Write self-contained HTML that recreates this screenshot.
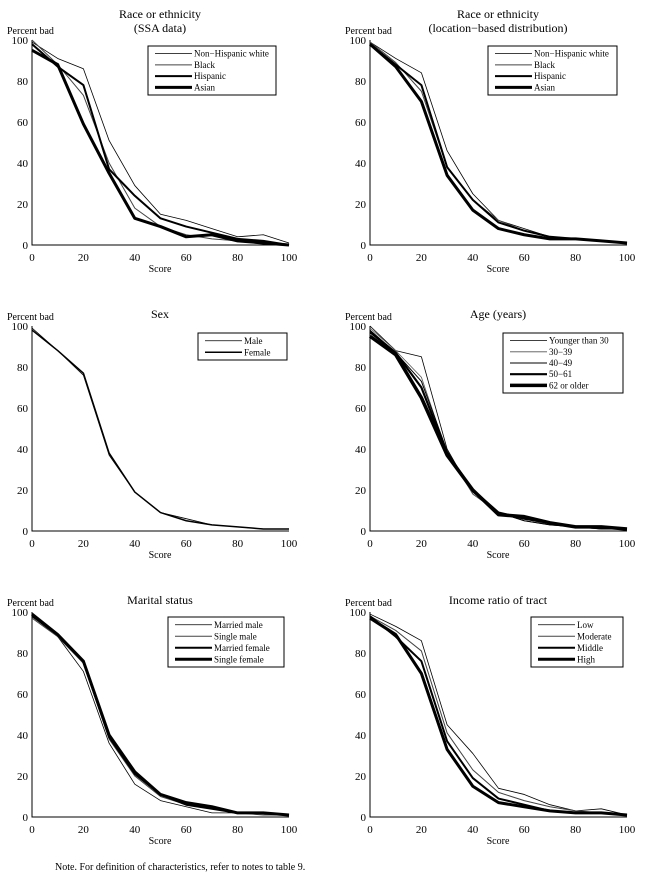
<!DOCTYPE html>
<html><head><meta charset="utf-8"><style>
html,body{margin:0;padding:0;background:#fff;}
svg{display:block;font-family:"Liberation Serif",serif;}
</style></head><body>
<svg id="c" width="645" height="882" viewBox="0 0 645 882" xmlns="http://www.w3.org/2000/svg">
<text x="55" y="870" font-size="10">Note. For definition of characteristics, refer to notes to table 9.</text>
</svg>
<script>
const xTicks=[0,20,40,60,80,100];
const yTicks=[0,20,40,60,80,100];
const scores=[0,10,20,30,40,50,60,70,80,90,100];
const ssaLabels=["Non\u2212Hispanic white","Black","Hispanic","Asian"];
const ssaNHW=[99,91,86,51,29,15,12,8,4,5,1];
const ssaBlack=[100,88,73,40,18,9,5,3,2,1,0];
const ssaHisp=[98,87,78,37,24,13,9,6,3,2,0];
const ssaAsian=[95,88,59,35,13,9,4,5,2,1,0];
const locNHW=[99,91,84,46,25,12,8,4,3,2,1];
const locBlack=[99,89,75,38,22,12,7,4,3,2,1];
const locHisp=[98,88,78,38,22,11,7,4,3,2,1];
const locAsian=[98,87,70,34,17,8,5,3,3,2,1];
const sexLabels=["Male","Female"];
const sexMale=[99,88,76,37,19,9,6,3,2,1,1];
const sexFemale=[98,88,77,38,19,9,5,3,2,1,1];
const ageLabels=["Younger than 30","30\u221239","40\u221249","50\u221261","62 or older"];
const ageU30=[100,88,85,40,18,9,5,3,2,1,1];
const age30=[99,88,75,38,18,9,6,3,2,1,1];
const age40=[98,87,73,39,19,9,5,3,2,1,1];
const age50=[97,87,70,38,20,9,6,4,2,2,1];
const age62=[95,86,65,37,20,8,7,4,2,2,1];
const marLabels=["Married male","Single male","Married female","Single female"];
const marMM=[98,88,71,36,16,8,5,2,2,2,1];
const marSM=[97,88,75,38,20,10,6,4,2,1,1];
const marMF=[98,89,76,39,21,11,6,4,2,2,1];
const marSF=[99,89,76,40,22,11,7,5,2,2,1];
const incLabels=["Low","Moderate","Middle","High"];
const incLow=[99,93,86,45,31,14,11,6,3,4,1];
const incMod=[98,91,81,41,23,12,8,5,3,2,1];
const incMid=[98,88,76,37,19,9,6,3,2,2,1];
const incHigh=[97,89,70,33,15,7,5,3,2,2,1];

const NS="http://www.w3.org/2000/svg";
const svg=document.getElementById('c');
function mk(tag,attrs,parent){const e=document.createElementNS(NS,tag);for(const k in attrs)e.setAttribute(k,attrs[k]);(parent||svg).appendChild(e);return e;}
function txt(s,x,y,size,anchor,parent){const t=mk('text',{x:x,y:y,'font-size':size,'text-anchor':anchor||'start'},parent);t.textContent=s;return t;}
const widths4=[0.8,1,2,3],cols4=["#000","#444","#000","#000"];
const widths5=[0.8,0.8,1,2.2,3.5],cols5=["#000","#555","#000","#000","#000"];

function panel(name,left,top,titles,series,labels,legBox,widths,cols){
  const g=mk('g',{});
  
  
  const x0=left,x1=left+257,y0=top+205,y1=top;
  const sx=v=>x0+(x1-x0)*v/100, sy=v=>y0-(y0-y1)*v/100;
  titles.forEach((t,i)=>{const e=txt(t,left+128,top-8-(titles.length-1-i)*14,12,'middle',g);
    });
  const pb=txt('Percent bad',left-25,top-6,10,'start',g);
  
  const sc=txt('Score',left+128,top+232,10,'middle',g);
  
  const ax=mk('path',{d:`M${x0},${y1}V${y0}H${x1}`,stroke:'#000','stroke-width':1,fill:'none'},g);
  
  xTicks.forEach(v=>{const t=txt(String(v),sx(v),y0+16,11,'middle',g);});
  yTicks.forEach(v=>{const t=txt(String(v),x0-4,sy(v)+4,11,'end',g);});
  series.forEach((s,i)=>{
    const p=mk('polyline',{points:s.map((v,j)=>sx(scores[j])+','+sy(v)).join(' '),fill:'none',stroke:cols[i],'stroke-width':widths[i],'stroke-linejoin':'round'},g);
    
  });
  const [bx,by,bw,bh]=legBox;
  const lb=mk('rect',{x:bx,y:by,width:bw,height:bh,fill:'#fff',stroke:'#000','stroke-width':1},g);
  
  const step=(bh-4)/labels.length;
  labels.forEach((l,i)=>{const yy=by+2+step*(i+0.5);
    const ln=mk('line',{x1:bx+7,x2:bx+44,y1:yy,y2:yy,stroke:cols[i],'stroke-width':widths[i]},g);
    
    const t=txt(l,bx+46,yy+3,9,'start',g);});
}
panel('panel-race-ssa',32,40,["Race or ethnicity","(SSA data)"],[ssaNHW,ssaBlack,ssaHisp,ssaAsian],ssaLabels,[148,46,128,49],widths4,cols4);
panel('panel-race-location',370,40,["Race or ethnicity","(location\u2212based distribution)"],[locNHW,locBlack,locHisp,locAsian],ssaLabels,[488,46,129,49],widths4,cols4);
panel('panel-sex',32,326,["Sex"],[sexMale,sexFemale],sexLabels,[198,333,89,27],[0.8,1.5],["#000","#000"]);
panel('panel-age',370,326,["Age (years)"],[ageU30,age30,age40,age50,age62],ageLabels,[503,333,120,60],widths5,cols5);
panel('panel-marital',32,612,["Marital status"],[marMM,marSM,marMF,marSF],marLabels,[168,617,116,50],widths4,cols4);
panel('panel-income',370,612,["Income ratio of tract"],[incLow,incMod,incMid,incHigh],incLabels,[531,617,92,50],widths4,["#000","#444","#000","#000"]);
</script>
</body></html>
